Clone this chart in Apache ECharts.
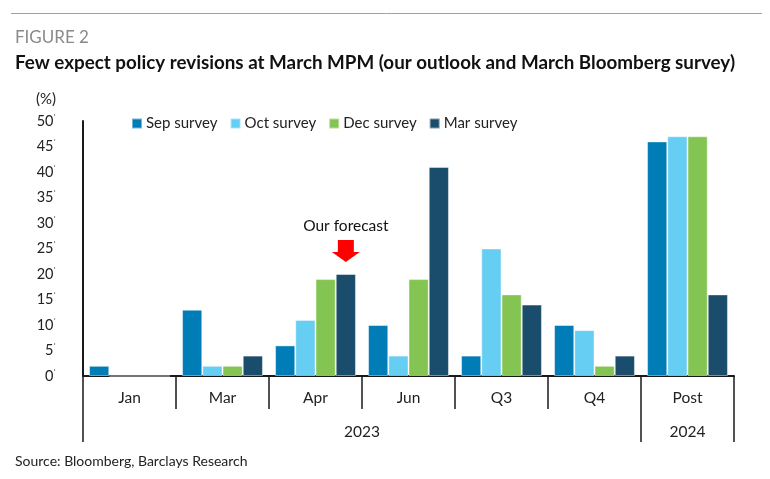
<!DOCTYPE html>
<html>
<head>
<meta charset="utf-8">
<script src="https://cdn.jsdelivr.net/npm/echarts@6/dist/echarts.min.js"></script>
<style>
html,body{margin:0;padding:0;background:#fff;}
#chart{width:770px;height:479px;}
</style>
</head>
<body>
<div id="chart"></div>
<script>
const categories = ['Jan', 'Mar', 'Apr', 'Jun', 'Q3', 'Q4', 'Post'];
const seriesNames = ['Sep survey', 'Oct survey', 'Dec survey', 'Mar survey'];
const sepSurvey = [2, 13, 6, 10, 4, 10, 46];
const octSurvey = [0, 2, 11, 4, 25, 9, 47];
const decSurvey = [0, 2, 19, 19, 16, 2, 47];
const marSurvey = [0, 4, 20, 41, 14, 4, 16];
const yearLabels = ['2023', '2024'];
const yearSpans = [6, 1];
const yTicks = [0, 5, 10, 15, 20, 25, 30, 35, 40, 45, 50];
const forecastCategory = 'Apr';
const forecastText = 'Our forecast';

const colors = ['#007DB7', '#66CDF3', '#84C452', '#1A4C6B'];
const FONT = 'Lato';

// year boundaries and centers from spans
const yearBounds = [0];
const yearCenters = [];
yearSpans.forEach((s, i) => {
  const start = yearBounds[yearBounds.length - 1];
  yearCenters.push(start + s / 2);
  yearBounds.push(start + s);
});

const chart = echarts.init(document.getElementById('chart'), null, {renderer: 'canvas'});
const allData = [sepSurvey, octSurvey, decSurvey, marSurvey];

const series = seriesNames.map((name, i) => {
  const s = {
    name: name,
    type: 'bar',
    data: allData[i],
    barGap: '0%',
    barCategoryGap: '13%',
    itemStyle: {color: colors[i], borderColor: 'rgba(255,255,255,0.45)', borderWidth: 1},
    emphasis: {disabled: true},
    animation: false
  };
  if (i === 3) {
    const idx = categories.indexOf(forecastCategory);
    s.markPoint = {
      silent: true,
      animation: false,
      data: [{coord: [forecastCategory, allData[i][idx]]}],
      symbol: 'path://M6,0 L22,0 L22,12 L28,12 L14,22 L0,12 L6,12 Z',
      symbolSize: [28, 22],
      symbolOffset: [0, -23],
      symbolKeepAspect: false,
      itemStyle: {color: '#FF0000', borderWidth: 0},
      label: {
        show: true,
        formatter: forecastText,
        position: 'top',
        distance: 6,
        color: '#111',
        fontFamily: FONT,
        fontSize: 15.5
      }
    };
  }
  return s;
});

const option = {
  animation: false,
  textStyle: {fontFamily: FONT},
  title: [
    {text: 'FIGURE 2', left: 10, top: 24, textStyle: {fontFamily: FONT, fontSize: 17, fontWeight: 'normal', color: '#8a8a8a'}},
    {text: 'Few expect policy revisions at March MPM (our outlook and March Bloomberg survey)', left: 10, top: 48,
      textStyle: {fontFamily: FONT, fontSize: 18.8, fontWeight: 'bold', color: '#111'}},
    {text: '(%)', left: 31, top: 87, textStyle: {fontFamily: FONT, fontSize: 15, fontWeight: 'normal', color: '#222'}},
    {text: 'Source: Bloomberg, Barclays Research', left: 10, top: 449, textStyle: {fontFamily: FONT, fontSize: 14, fontWeight: 'normal', color: '#222'}}
  ],
  graphic: [
    {type: 'line', shape: {x1: 11, y1: 13.5, x2: 762, y2: 13.5}, style: {stroke: '#a0a0a0', lineWidth: 1}, silent: true}
  ],
  legend: {
    left: 126, top: 111,
    itemWidth: 10, itemHeight: 10, itemGap: 12,
    icon: 'rect',
    textStyle: {fontFamily: FONT, fontSize: 15, color: '#222', padding: [0, 0, 0, -1]},
    data: seriesNames
  },
  grid: {left: 83, right: 36, top: 121, bottom: 103, containLabel: false},
  xAxis: [
    {
      type: 'category',
      data: categories,
      position: 'bottom',
      axisLine: {show: true, lineStyle: {color: '#1a1a1a', width: 2}},
      axisTick: {show: true, interval: 0, length: 33, lineStyle: {color: '#1a1a1a', width: 1.5}},
      axisLabel: {interval: 0, margin: 14, fontFamily: FONT, fontSize: 15.5, color: '#222'},
      splitLine: {show: false}
    },
    {
      type: 'value',
      min: 0,
      max: categories.length,
      position: 'bottom',
      axisLine: {show: false},
      axisTick: {show: true, customValues: yearBounds, length: 66, lineStyle: {color: '#1a1a1a', width: 1.5}},
      axisLabel: {
        show: true,
        customValues: yearCenters,
        margin: 48,
        fontFamily: FONT, fontSize: 15.5, color: '#222',
        formatter: function (v) {
          const k = yearCenters.indexOf(v);
          return k >= 0 ? yearLabels[k] : '';
        }
      },
      splitLine: {show: false}
    }
  ],
  yAxis: {
    type: 'value',
    min: yTicks[0],
    max: yTicks[yTicks.length - 1],
    interval: 5,
    axisLine: {show: true, lineStyle: {color: '#1a1a1a', width: 2}},
    axisTick: {show: false},
    splitLine: {show: false},
    axisLabel: {
      margin: 27,
      fontFamily: FONT, fontSize: 14.5, color: '#222',
      formatter: function (v) { return '{a|' + v + '}{b|\u02C8}'; },
      rich: {
        a: {fontFamily: FONT, fontSize: 14.5, color: '#222'},
        b: {fontFamily: FONT, fontSize: 10, color: '#555', verticalAlign: 'top'}
      }
    }
  },
  series: series
};
chart.setOption(option);
</script>
</body>
</html>
